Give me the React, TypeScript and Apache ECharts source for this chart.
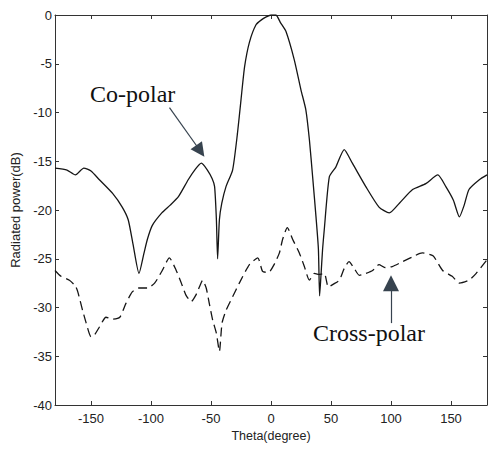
import React, { useEffect, useRef } from "react";
import * as echarts from "echarts";

const coTheta = [-180, -170, -163, -156, -150, -143, -132, -124, -119, -115, -110, -106, -103, -99, -91, -84, -77, -69, -63, -58, -53, -49, -47, -45.5, -44.5, -43, -41, -37.5, -32, -28, -25, -22, -18, -12.5, -8, -4, 0, 4, 8, 12.5, 19.4, 25, 29, 32, 34.7, 37.5, 39.5, 40.5, 41.5, 43, 44.4, 48.6, 54, 61, 67.8, 79, 90, 98.6, 107, 118, 129, 139, 145.7, 152, 157, 161, 165, 173.6, 180];
const coValues = [-15.7, -15.9, -16.4, -15.7, -16.0, -16.9, -18.3, -19.7, -21.0, -23.5, -26.5, -24.5, -23.0, -21.6, -20.3, -19.5, -18.6, -16.9, -15.8, -15.2, -15.9, -16.8, -17.6, -21, -25.0, -21, -19.3, -17.6, -15.9, -12.2, -8.7, -5.3, -2.8, -1.0, -0.5, -0.2, 0, 0, -0.8, -1.7, -4.6, -7.7, -9.7, -12.8, -16.6, -20.7, -24, -28.8, -27, -24, -22, -16.6, -15.6, -13.8, -15.2, -17.6, -19.7, -20.3, -19.3, -17.9, -17.3, -16.4, -17.6, -19, -20.7, -19.5, -17.9, -16.9, -16.4];

const crossTheta = [-180, -175, -168, -163, -161, -157, -154, -150, -147, -143, -137.5, -132, -126, -121, -115.6, -110, -103, -97, -90.6, -84.7, -79, -75, -71, -66.5, -62.5, -59.7, -57, -54, -51.4, -48.6, -45.6, -43, -40.8, -37.5, -32, -26.4, -18, -11, -7, -2, 3, 7, 9.7, 13.6, 18, 23.6, 27.8, 32, 36, 40, 44.4, 47.8, 52, 57, 61, 65, 69.4, 73.6, 79, 84.7, 90, 95, 101, 109.6, 118, 126, 135, 143, 151, 157, 165, 171, 180];
const crossValues = [-26.2, -26.8, -27.2, -27.8, -28.4, -30.3, -31.6, -33.0, -32.8, -32.0, -31.0, -31.2, -31.0, -29.6, -28.4, -28.0, -28.0, -27.5, -26.2, -24.9, -26.2, -27.4, -28.7, -29.4, -28.7, -27.9, -27.2, -28.0, -29.6, -31.3, -32.6, -34.5, -31.6, -30.3, -28.9, -27.5, -25.6, -24.9, -26.3, -26.4, -25.5, -24.4, -23.0, -21.8, -23.0, -24.4, -25.8, -27.2, -26.5, -26.6, -26.5, -27.9, -27.6, -27.2, -26.0, -25.3, -26.0, -26.7, -26.5, -26.2, -25.6, -25.9, -25.8, -25.3, -24.8, -24.4, -24.7, -26.2, -26.8, -27.5, -27.2, -26.5, -25.1];

// annotation arrows: [startTheta, startDb, endTheta, endDb]
const coArrow = [-84.6, -9.5, -58.9, -13.95];
const crossArrow = [100, -31.6, 100, -27.5];

const xLabelName = "Theta(degree)";
const yLabelName = "Radiated power(dB)";

export default function App() {
  const ref = useRef<HTMLDivElement>(null);
  useEffect(() => {
    const chart = echarts.init(ref.current!, null, { renderer: "svg" });
    const axisColor = "#333";
    const labelFont = { color: "#222", fontSize: 13, fontFamily: "Liberation Sans, Arial, sans-serif" };
    const arrowColor = "#37434f";
    chart.setOption({
      animation: false,
      backgroundColor: "#fff",
      grid: { left: 55, right: 1, top: 15, bottom: 46, containLabel: false },
      xAxis: [
        {
          type: "value",
          min: -180,
          max: 180,
          splitNumber: 7,
          position: "bottom",
          name: xLabelName,
          nameLocation: "middle",
          nameGap: 21,
          nameTextStyle: { ...labelFont, fontSize: 12.5 },
          axisLine: { onZero: false, lineStyle: { color: axisColor, width: 1 } },
          axisTick: { inside: true, length: 4, lineStyle: { color: axisColor } },
          axisLabel: { ...labelFont, margin: 7, showMinLabel: false, showMaxLabel: false },
          splitLine: { show: false },
        },
        {
          type: "value",
          min: -180,
          max: 180,
          splitNumber: 7,
          position: "top",
          axisLine: { onZero: false, lineStyle: { color: axisColor, width: 1 } },
          axisTick: { inside: true, length: 4, lineStyle: { color: axisColor } },
          axisLabel: { show: false },
          splitLine: { show: false },
        },
      ],
      yAxis: [
        {
          type: "value",
          min: -40,
          max: 0,
          interval: 5,
          position: "left",
          name: yLabelName,
          nameLocation: "middle",
          nameGap: 31,
          nameTextStyle: { ...labelFont, fontSize: 13 },
          axisLine: { show: true, onZero: false, lineStyle: { color: axisColor, width: 1 } },
          axisTick: { show: true, inside: true, length: 4, lineStyle: { color: axisColor } },
          axisLabel: { ...labelFont, margin: 3 },
          splitLine: { show: false },
        },
        {
          type: "value",
          min: -40,
          max: 0,
          interval: 5,
          position: "right",
          axisLine: { show: true, onZero: false, lineStyle: { color: axisColor, width: 1 } },
          axisTick: { show: true, inside: true, length: 4, lineStyle: { color: axisColor } },
          axisLabel: { show: false },
          splitLine: { show: false },
        },
      ],
      series: [
        {
          name: "Co-polar",
          type: "line",
          xAxisIndex: 0,
          yAxisIndex: 0,
          data: coTheta.map((t, i) => [t, coValues[i]]),
          showSymbol: false,
          smooth: 0.2,
          lineStyle: { color: "#151515", width: 1.3 },
          markLine: {
            silent: true,
            symbol: ["none", "triangle"],
            symbolSize: 14,
            label: { show: false },
            lineStyle: { color: arrowColor, width: 1.2, type: "solid" },
            data: [
              [
                { coord: [coArrow[0], coArrow[1]], symbol: "none" },
                { coord: [coArrow[2], coArrow[3]], symbol: "triangle", symbolSize: 14 },
              ],
              [
                { coord: [crossArrow[0], crossArrow[1]], symbol: "none" },
                { coord: [crossArrow[2], crossArrow[3]], symbol: "triangle", symbolSize: 16 },
              ],
            ],
          },
        },
        {
          name: "Cross-polar",
          type: "line",
          xAxisIndex: 0,
          yAxisIndex: 0,
          data: crossTheta.map((t, i) => [t, crossValues[i]]),
          showSymbol: false,
          smooth: 0.2,
          lineStyle: { color: "#151515", width: 1.3, type: [9, 5] },
        },
      ],
      graphic: [
        {
          type: "text",
          x: 90,
          y: 94,
          style: {
            text: "Co-polar",
            fontFamily: "Liberation Serif, Times New Roman, serif",
            fontSize: 24,
            fill: "#111",
            verticalAlign: "middle",
            align: "left",
          },
        },
        {
          type: "text",
          x: 313,
          y: 333,
          style: {
            text: "Cross-polar",
            fontFamily: "Liberation Serif, Times New Roman, serif",
            fontSize: 24,
            fill: "#111",
            verticalAlign: "middle",
            align: "left",
          },
        },
      ],
    });
    return () => chart.dispose();
  }, []);
  return (
    <div
      ref={ref}
      style={{ position: "fixed", left: 0, top: 0, width: 488, height: 451, background: "#fff" }}
    />
  );
}
